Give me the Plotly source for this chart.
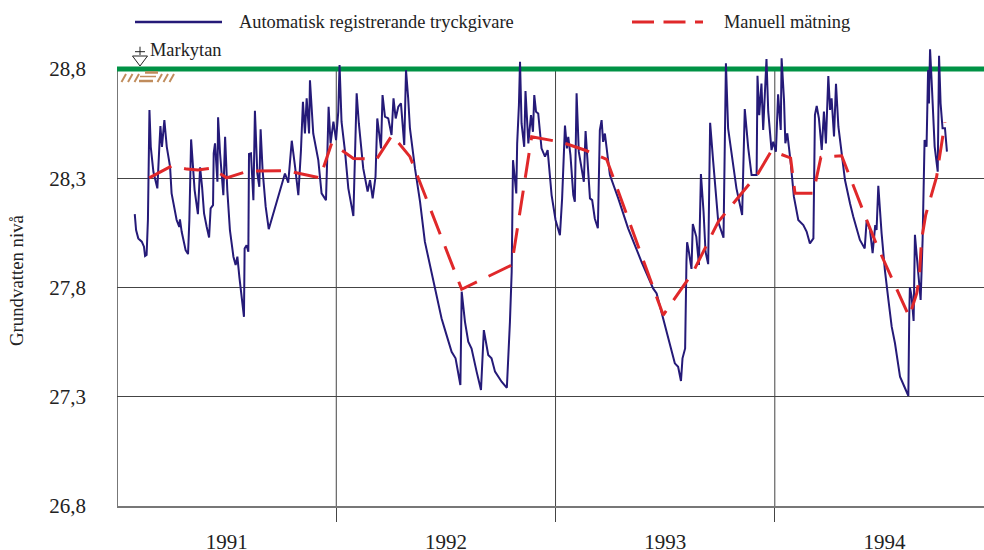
import plotly.graph_objects as go

auto_x_1991 = [1991.081,1991.087,1991.097,1991.113,1991.123,1991.128,1991.135,1991.141,1991.148,1991.154,1991.166,1991.175,1991.184,1991.193,1991.198,1991.205,1991.216,1991.227,1991.242,1991.249,1991.262,1991.272,1991.284,1991.287,1991.295,1991.306,1991.313,1991.324,1991.330,1991.338,1991.345,1991.354,1991.369,1991.379,1991.388,1991.397,1991.409,1991.420,1991.427,1991.438,1991.441,1991.447,1991.458,1991.461,1991.470,1991.479,1991.485,1991.493,1991.503,1991.515,1991.531,1991.541,1991.549,1991.558,1991.569,1991.579,1991.582,1991.591,1991.599,1991.602,1991.611,1991.622,1991.629,1991.640,1991.649,1991.655,1991.664,1991.678,1991.692,1991.766,1991.781,1991.797,1991.812,1991.827,1991.839,1991.848,1991.857,1991.865,1991.876,1991.880,1991.895,1991.918,1991.933,1991.953,1991.959,1991.965,1991.974,1991.987,1991.999,1992.009]
auto_y_1991 = [28.136,28.063,28.025,28.010,27.987,27.944,27.949,28.109,28.612,28.444,28.330,28.292,28.254,28.444,28.539,28.444,28.566,28.444,28.353,28.231,28.170,28.109,28.078,28.112,28.055,28.002,27.971,27.953,28.109,28.478,28.383,28.246,28.136,28.350,28.261,28.139,28.078,28.029,28.162,28.177,28.414,28.460,28.284,28.579,28.414,28.277,28.223,28.490,28.246,28.063,27.941,27.903,27.941,27.849,27.743,27.666,27.979,27.994,27.964,28.411,28.414,28.200,28.609,28.322,28.261,28.524,28.337,28.170,28.067,28.322,28.280,28.472,28.353,28.223,28.429,28.650,28.505,28.666,28.505,28.749,28.505,28.383,28.231,28.200,28.399,28.627,28.460,28.559,28.475,28.604]

auto_x_1992 = [1992.015,1992.024,1992.040,1992.055,1992.078,1992.093,1992.103,1992.123,1992.143,1992.154,1992.166,1992.179,1992.187,1992.204,1992.211,1992.222,1992.237,1992.252,1992.261,1992.271,1992.283,1992.295,1992.310,1992.318,1992.328,1992.336,1992.359,1992.382,1992.404,1992.420,1992.442,1992.458,1992.480,1992.503,1992.526,1992.544,1992.566,1992.572,1992.587,1992.602,1992.617,1992.640,1992.660,1992.673,1992.693,1992.708,1992.724,1992.754,1992.778,1992.792,1992.800,1992.806,1992.821,1992.825,1992.833,1992.838,1992.845,1992.857,1992.863,1992.876,1992.888,1992.897,1992.903,1992.911,1992.921,1992.936,1992.952,1992.964,1992.982,1993.000,1993.015]
auto_y_1992 = [28.818,28.559,28.422,28.254,28.127,28.689,28.551,28.345,28.239,28.292,28.208,28.307,28.574,28.437,28.681,28.582,28.574,28.498,28.666,28.574,28.628,28.643,28.452,28.795,28.666,28.528,28.345,28.193,28.010,27.933,27.827,27.750,27.659,27.582,27.506,27.476,27.354,27.781,27.643,27.552,27.521,27.415,27.331,27.605,27.491,27.476,27.415,27.369,27.341,27.643,27.872,28.383,28.231,28.460,28.635,28.833,28.551,28.444,28.699,28.460,28.589,28.513,28.681,28.605,28.597,28.437,28.399,28.429,28.223,28.109,28.048]

auto_x_1993 = [1993.020,1993.030,1993.043,1993.052,1993.058,1993.068,1993.081,1993.088,1993.096,1993.106,1993.119,1993.129,1993.137,1993.157,1993.167,1993.179,1993.193,1993.202,1993.210,1993.217,1993.225,1993.248,1993.286,1993.331,1993.392,1993.445,1993.461,1993.483,1993.506,1993.529,1993.544,1993.559,1993.572,1993.579,1993.591,1993.597,1993.600,1993.608,1993.620,1993.626,1993.642,1993.654,1993.663,1993.675,1993.684,1993.696,1993.705,1993.719,1993.730,1993.742,1993.766,1993.772,1993.777,1993.787,1993.803,1993.825,1993.851,1993.863,1993.879,1993.894,1993.917,1993.921,1993.929,1993.939,1993.947,1993.955,1993.962,1993.970,1993.985,1993.993,1994.005,1994.015]
auto_y_1993 = [28.040,28.208,28.541,28.437,28.490,28.406,28.223,28.193,28.689,28.422,28.338,28.284,28.516,28.208,28.200,28.116,28.071,28.521,28.566,28.467,28.505,28.315,28.208,28.071,27.918,27.796,27.773,27.689,27.598,27.521,27.453,27.437,27.372,27.476,27.521,27.918,28.007,27.964,27.885,28.091,28.032,27.903,28.319,28.147,27.964,27.907,28.554,28.376,28.223,28.101,28.028,28.528,28.826,28.528,28.414,28.254,28.132,28.617,28.437,28.315,28.315,28.769,28.589,28.734,28.521,28.719,28.846,28.605,28.429,28.467,28.422,28.684]

auto_x_1994 = [1994.027,1994.031,1994.042,1994.048,1994.057,1994.072,1994.087,1994.107,1994.130,1994.145,1994.160,1994.176,1994.183,1994.191,1994.201,1994.214,1994.224,1994.233,1994.244,1994.252,1994.259,1994.270,1994.279,1994.290,1994.305,1994.320,1994.343,1994.358,1994.388,1994.410,1994.419,1994.434,1994.446,1994.458,1994.464,1994.472,1994.487,1994.502,1994.518,1994.533,1994.548,1994.571,1994.594,1994.609,1994.613,1994.616,1994.624,1994.633,1994.639,1994.650,1994.659,1994.665,1994.674,1994.683,1994.692,1994.699,1994.703,1994.708,1994.715,1994.723,1994.729,1994.743,1994.749,1994.756,1994.765,1994.776,1994.785]
auto_y_1994 = [28.521,28.849,28.658,28.460,28.506,28.376,28.216,28.109,28.086,28.056,28.002,28.025,28.590,28.631,28.575,28.430,28.605,28.460,28.768,28.613,28.666,28.491,28.732,28.536,28.399,28.292,28.185,28.124,28.018,27.979,28.109,28.063,27.957,28.086,28.063,28.266,28.048,27.880,27.743,27.621,27.545,27.392,27.339,27.304,27.667,27.801,27.758,27.647,28.041,27.911,27.789,27.743,28.018,28.475,28.445,28.796,28.643,28.890,28.750,28.536,28.445,28.330,28.861,28.643,28.529,28.529,28.422]

manual_x = [1991.147,1991.249,1991.318,1991.369,1991.432,1991.500,1991.597,1991.666,1991.774,1991.926,1991.979,1992.078,1992.184,1992.255,1992.336,1992.572,1992.800,1992.891,1992.967,1993.028,1993.142,1993.233,1993.491,1993.628,1993.742,1993.924,1993.985,1994.072,1994.092,1994.175,1994.210,1994.305,1994.419,1994.461,1994.613,1994.647,1994.659,1994.669,1994.688,1994.738,1994.748,1994.765,1994.776]
manual_y = [28.302,28.356,28.342,28.338,28.346,28.302,28.333,28.335,28.335,28.302,28.460,28.391,28.387,28.498,28.399,27.792,27.903,28.490,28.475,28.465,28.426,28.387,27.674,27.872,28.101,28.323,28.426,28.393,28.231,28.231,28.396,28.403,28.109,28.004,27.666,27.773,27.843,28.017,28.132,28.307,28.376,28.490,28.557]

y_ticks = [26.8, 27.3, 27.8, 28.3, 28.8]
y_labels = ["26,8", "27,3", "27,8", "28,3", "28,8"]
year_centres = [1991.5, 1992.5, 1993.5, 1994.5]
year_labels = ["1991", "1992", "1993", "1994"]
year_edges = [1992, 1993, 1994]
series_names = ["Automatisk registrerande tryckgivare", "Manuell mätning"]
y_title = "Grundvatten nivå"
ground_label = "Markytan"
ground_level = 28.8
x_limits = [1991, 1994.954]

FONT = "Liberation Serif"
TEXT = "#222222"
BLUE = "#251a78"
RED = "#e0282a"
GREEN = "#009245"
BROWN = "#c08c5c"
W, H = 984, 550
L, R, T, B = 117, 984, 40, 506

def px(x):
    return (x - L) / (R - L)

def py(y):
    return (B - y) / (B - T)

auto_x = auto_x_1991 + auto_x_1992 + auto_x_1993 + auto_x_1994
auto_y = auto_y_1991 + auto_y_1992 + auto_y_1993 + auto_y_1994

fig = go.Figure()
fig.add_trace(go.Scatter(x=x_limits, y=[ground_level, ground_level], mode="lines", name=ground_label,
                         line=dict(color=GREEN, width=5)))
fig.add_trace(go.Scatter(x=auto_x, y=auto_y, mode="lines", name=series_names[0],
                         line=dict(color=BLUE, width=2)))
fig.add_trace(go.Scatter(x=manual_x, y=manual_y, mode="lines", name=series_names[1],
                         line=dict(color=RED, width=3, dash="25px,13px")))

shapes = []
for e in year_edges:
    shapes.append(dict(type="line", xref="x", yref="y", x0=e, x1=e, y0=26.8, y1=ground_level,
                       line=dict(color="#444444", width=1), layer="below"))
shapes.append(dict(type="line", xref="x", yref="y", x0=1991, x1=1991, y0=26.8, y1=ground_level,
                   line=dict(color="#777777", width=2), layer="below"))

def pline(x0, y0, x1, y1, color, width):
    shapes.append(dict(type="line", xref="paper", yref="paper", x0=px(x0), x1=px(x1),
                       y0=py(y0), y1=py(y1), line=dict(color=color, width=width)))

shapes.append(dict(type="path", xref="paper", yref="paper",
                   path=f"M {px(132.5)} {py(56)} L {px(147.5)} {py(56)} L {px(140)} {py(66)} Z",
                   line=dict(color="#222222", width=1), fillcolor="white"))
pline(135, 51.7, 145, 51.7, "#222222", 1)
pline(140, 46.7, 140, 55, "#222222", 1)
for a in (121.5, 128, 134.5, 157.5, 163.5, 169.5):
    pline(a, 82, a + 4.5, 74, BROWN, 2)
pline(145, 72.5, 158, 72.5, BROWN, 2.5)
pline(140, 76.5, 156, 76.5, BROWN, 1.5)
pline(139, 81, 153, 81, BROWN, 2.5)
pline(135, 22, 222, 22, BLUE, 2.5)
pline(632, 22, 703, 22, RED, 3)
shapes[-1]["line"]["dash"] = "22px,9.5px"

def note(text, x, y, size, anchor="left", angle=0):
    return dict(text=text, xref="paper", yref="paper", x=px(x), y=py(y), showarrow=False,
                xanchor=anchor, yanchor="middle", textangle=angle,
                font=dict(family=FONT, size=size, color=TEXT))

annotations = [
    note(series_names[0], 237, 22, 18.4),
    note(series_names[1], 722, 22, 18.4),
    note(ground_label, 148, 50, 18.4),
    note(y_title, 16, 280, 18.8, "center", -90),
]

fig.update_layout(
    width=W, height=H, autosize=False,
    margin=dict(l=L, r=W - R, t=T, b=H - B, autoexpand=False),
    paper_bgcolor="white", plot_bgcolor="white",
    showlegend=False, shapes=shapes, annotations=annotations,
    font=dict(family=FONT, color=TEXT, size=18),
    xaxis=dict(range=x_limits, showgrid=False, zeroline=False, automargin=False,
               showline=True, linecolor="#777777", linewidth=1.5,
               tickmode="array", tickvals=year_centres, ticktext=year_labels,
               ticks="", ticklabelstandoff=16, tickfont=dict(family=FONT, size=21, color=TEXT),
               minor=dict(tickmode="array", tickvals=year_edges, ticks="outside", ticklen=14,
                          tickcolor="#444444", tickwidth=1, showgrid=False)),
    yaxis=dict(range=[26.8, 28.933], showgrid=True, gridcolor="#444444", gridwidth=1, zeroline=False,
               showline=False, automargin=False, tickmode="array", tickvals=y_ticks, ticktext=y_labels,
               ticks="", ticklabelstandoff=30, tickfont=dict(family=FONT, size=21, color=TEXT)),
)
fig.write_html("out.html", config=dict(displayModeBar=False),
               post_script="document.body.style.margin='0';document.body.style.overflow='hidden';")
